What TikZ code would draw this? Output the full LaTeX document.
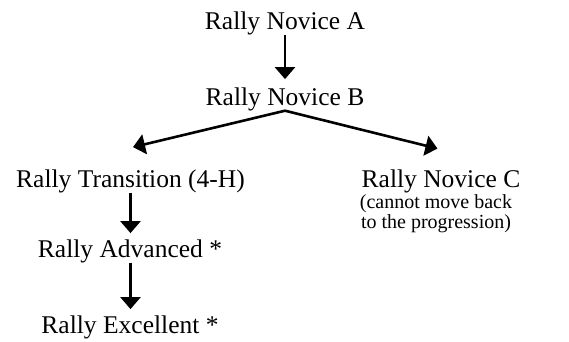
\documentclass[tikz,border=0pt]{standalone}
\usepackage{fontspec}
\setmainfont{Liberation Serif}
\usetikzlibrary{arrows.meta}

\begin{document}
\begin{tikzpicture}[x=1pt,y=-1pt,
  level/.style={font=\fontsize{25.5}{28}\selectfont, inner sep=0pt, anchor=base},
  remark/.style={font=\fontsize{20}{20}\selectfont, inner sep=0pt, align=center, anchor=north},
  link/.style={-{Triangle[width=20pt,length=12pt]}, line width=2.6pt}]
 \useasboundingbox (0,0) rectangle (569,341);

 \node[level] (novA) at (285,29) {Rally Novice A};
 \node[level] (novB) at (285,105) {Rally Novice B};
 \node[level] (trans) at (130.5,187) {Rally Transition (4-H)};
 \node[level] (novC) at (441,187) {Rally Novice C};
 \node[remark] (back) at (436,194) {(cannot move back\\to the progression)};
 \node[level] (adv) at (130,257) {Rally Advanced *};
 \node[level] (exc) at (130,333) {Rally Excellent *};

 \draw[link, shorten >=8pt] (novA.south) -- (novB.north);
 \draw[link] (novB.south) -- ([xshift=2.5pt,yshift=22pt]trans.north);
 \draw[link] (novB.south) -- ([xshift=-3.5pt,yshift=20.5pt]novC.north);
 \draw[link, shorten >=6pt] (trans.south) -- (trans.south |- adv.north);
 \draw[link, shorten >=6pt] (adv.south -| trans.south) -- (trans.south |- exc.north);
\end{tikzpicture}
\end{document}
